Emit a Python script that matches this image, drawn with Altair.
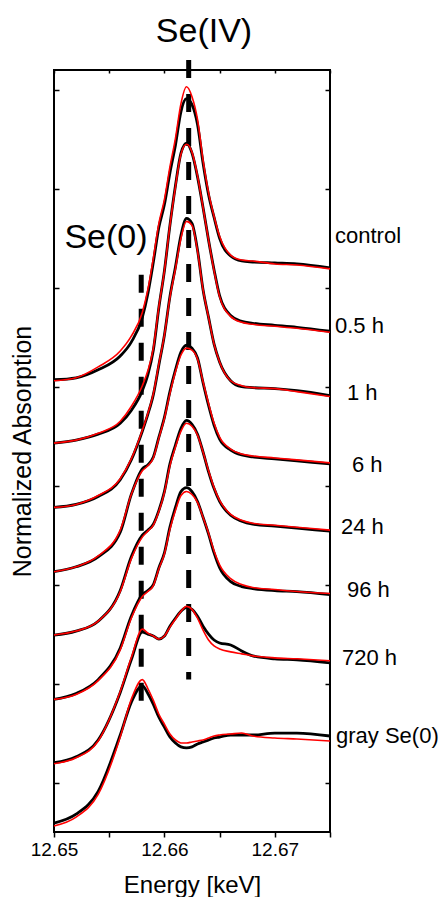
import altair as alt
import pandas as pd

# ---------------- data ----------------
energy = [12.650, 12.652, 12.654, 12.656, 12.657, 12.658, 12.6585, 12.659, 12.6595, 12.660,
          12.6605, 12.661, 12.6615, 12.662, 12.6625, 12.663, 12.6635, 12.664, 12.6645, 12.665,
          12.666, 12.667, 12.668, 12.670, 12.672, 12.675]

samples = ["control", "0.5 h", "1 h", "6 h", "24 h", "96 h", "720 h", "gray Se(0)"]
offsets = [4.07, 3.43, 2.78, 2.13, 1.49, 0.84, 0.20, -0.43]

data_control = [0, 0.02, 0.10, 0.24, 0.38, 0.63, 0.87, 1.19, 1.54, 1.77, 2.09, 2.37, 2.71, 2.84, 2.78, 2.58, 2.19, 1.87, 1.64, 1.43, 1.25, 1.20, 1.19, 1.18, 1.17, 1.13]
fit_control = [-0.01, 0.02, 0.13, 0.29, 0.44, 0.68, 0.91, 1.23, 1.58, 1.82, 2.15, 2.44, 2.79, 2.96, 2.86, 2.63, 2.22, 1.89, 1.65, 1.45, 1.26, 1.21, 1.20, 1.17, 1.16, 1.12]

data_05h = [0, 0.03, 0.09, 0.20, 0.33, 0.53, 0.69, 0.94, 1.37, 1.74, 2.20, 2.60, 2.93, 3.03, 2.93, 2.69, 2.38, 2.05, 1.75, 1.49, 1.29, 1.23, 1.21, 1.19, 1.17, 1.13]
fit_05h = [0, 0.03, 0.10, 0.22, 0.37, 0.58, 0.73, 0.96, 1.38, 1.74, 2.20, 2.59, 2.92, 3.02, 2.94, 2.70, 2.38, 2.05, 1.74, 1.48, 1.28, 1.22, 1.20, 1.18, 1.16, 1.12]

data_1h = [0, 0.03, 0.11, 0.28, 0.48, 0.77, 0.94, 1.14, 1.44, 1.74, 2.13, 2.43, 2.75, 2.92, 2.87, 2.60, 2.20, 1.92, 1.65, 1.47, 1.28, 1.22, 1.21, 1.20, 1.18, 1.13]
fit_1h = [0, 0.03, 0.12, 0.29, 0.49, 0.78, 0.95, 1.15, 1.45, 1.74, 2.12, 2.41, 2.72, 2.89, 2.85, 2.59, 2.20, 1.92, 1.65, 1.47, 1.28, 1.23, 1.21, 1.20, 1.17, 1.12]

data_6h = [0, 0.05, 0.15, 0.40, 0.78, 1.04, 1.08, 1.16, 1.36, 1.56, 1.82, 2.04, 2.22, 2.29, 2.26, 2.16, 1.91, 1.68, 1.48, 1.34, 1.23, 1.18, 1.16, 1.14, 1.12, 1.09]
fit_6h = [0, 0.05, 0.16, 0.42, 0.78, 1.02, 1.07, 1.15, 1.35, 1.55, 1.80, 2.02, 2.19, 2.26, 2.24, 2.15, 1.92, 1.70, 1.50, 1.36, 1.24, 1.19, 1.17, 1.15, 1.13, 1.10]

data_24h = [0, 0.04, 0.14, 0.45, 0.79, 1.01, 1.06, 1.12, 1.26, 1.45, 1.73, 1.92, 2.09, 2.17, 2.13, 2.03, 1.85, 1.65, 1.48, 1.35, 1.21, 1.15, 1.12, 1.10, 1.08, 1.05]
fit_24h = [0, 0.04, 0.14, 0.44, 0.77, 0.99, 1.05, 1.11, 1.25, 1.44, 1.71, 1.90, 2.06, 2.14, 2.11, 2.02, 1.85, 1.66, 1.49, 1.36, 1.22, 1.16, 1.13, 1.11, 1.09, 1.06]

data_96h = [0, 0.06, 0.20, 0.52, 0.84, 1.06, 1.10, 1.16, 1.33, 1.48, 1.74, 1.94, 2.10, 2.14, 2.10, 2.00, 1.84, 1.67, 1.48, 1.33, 1.19, 1.14, 1.12, 1.10, 1.09, 1.06]
fit_96h = [0, 0.05, 0.19, 0.50, 0.82, 1.04, 1.09, 1.15, 1.32, 1.47, 1.72, 1.91, 2.06, 2.10, 2.07, 1.99, 1.84, 1.68, 1.50, 1.36, 1.22, 1.16, 1.13, 1.11, 1.09, 1.07]

data_720h = [0, 0.06, 0.23, 0.71, 1.04, 1.32, 1.30, 1.28, 1.25, 1.28, 1.38, 1.46, 1.53, 1.57, 1.55, 1.48, 1.38, 1.30, 1.24, 1.21, 1.19, 1.13, 1.08, 1.05, 1.04, 1.01]
fit_720h = [-0.01, 0.05, 0.22, 0.72, 1.06, 1.35, 1.31, 1.28, 1.25, 1.28, 1.37, 1.45, 1.53, 1.58, 1.55, 1.46, 1.34, 1.24, 1.18, 1.15, 1.12, 1.10, 1.08, 1.06, 1.05, 1.03]

data_gray = [0.02, 0.11, 0.34, 0.91, 1.24, 1.41, 1.33, 1.22, 1.09, 0.99, 0.89, 0.83, 0.79, 0.78, 0.79, 0.82, 0.84, 0.86, 0.88, 0.89, 0.91, 0.91, 0.91, 0.93, 0.93, 0.90]
fit_gray = [-0.01, 0.08, 0.31, 0.89, 1.27, 1.47, 1.38, 1.26, 1.12, 1.02, 0.92, 0.86, 0.83, 0.83, 0.84, 0.85, 0.86, 0.88, 0.90, 0.91, 0.92, 0.93, 0.90, 0.88, 0.87, 0.85]

measured = [data_control, data_05h, data_1h, data_6h, data_24h, data_96h, data_720h, data_gray]
fitted = [fit_control, fit_05h, fit_1h, fit_6h, fit_24h, fit_96h, fit_720h, fit_gray]

# label heights (stacked-axis units) and reference energies
label_y = [5.45, 4.54, 3.87, 3.14, 2.51, 1.87, 1.19, 0.40]
ref_names = ["Se(0)", "Se(IV)"]
ref_energy = [12.6579, 12.6622]
ref_top = [5.13, 7.30]
ref_bottom = [0.82, 1.04]

x_ticks = [12.65, 12.655, 12.66, 12.665, 12.67, 12.675]
y_ticks = [0, 1, 2, 3, 4, 5, 6, 7]

# ---------------- build tables ----------------
rows = []
for name, off, m, f in zip(samples, offsets, measured, fitted):
    for e, vm, vf in zip(energy, m, f):
        rows.append({"energy": e, "sample": name, "kind": "data", "value": vm + off})
        rows.append({"energy": e, "sample": name, "kind": "fit", "value": vf + off})
df = pd.DataFrame(rows)

ref_df = pd.DataFrame({"name": ref_names, "energy": ref_energy, "top": ref_top, "bottom": ref_bottom})

# label x (pixels inside plot area, relative to its left edge)
label_px = [281, 281, 293, 298, 287, 293, 288, 282]
lab_df = pd.DataFrame({"label": samples, "y": label_y, "px": label_px})

FONT = "Liberation Sans"
xscale = alt.Scale(domain=[12.65, 12.675], nice=False, zero=False)
yscale = alt.Scale(domain=[-0.5, 7.2], nice=False, zero=False)

bottom_axis = alt.Axis(values=x_ticks, orient="bottom",
                       labelExpr="round(datum.value*1000) % 10 == 0 ? format(datum.value, '.2f') : ''",
                       labelFlush=False, labelOverlap=False,
                       title="Energy [keV]", tickSize=5, tickWidth=1.5, tickColor="black",
                       domain=False, grid=False, labelFont=FONT, labelFontSize=19,
                       labelColor="black", labelPadding=3, titleFont=FONT, titleFontSize=24,
                       titleFontWeight="normal", titleColor="black", titlePadding=14)
top_axis = alt.Axis(values=x_ticks, orient="top", labels=False, title=None, tickSize=3,
                    tickWidth=1.5, tickColor="black", domain=False, grid=False, offset=-3)
left_axis = alt.Axis(values=y_ticks, orient="left", labels=False, title="Normalized Absorption",
                     tickSize=5, tickWidth=1.5, tickColor="black", domain=False, grid=False,
                     offset=-5, titleFont=FONT, titleFontSize=25, titleFontWeight="normal",
                     titleColor="black", titlePadding=18)
right_axis = alt.Axis(values=y_ticks, orient="right", labels=False, title=None, tickSize=5,
                      tickWidth=1.5, tickColor="black", domain=False, grid=False, offset=-5)

base = alt.Chart(df)

black = base.transform_filter(alt.datum.kind == "data").mark_line(
    color="black", strokeWidth=2.8, interpolate="monotone").encode(
    x=alt.X("energy:Q", scale=xscale, axis=bottom_axis),
    y=alt.Y("value:Q", scale=yscale, axis=left_axis),
    detail="sample:N")

red = base.transform_filter(alt.datum.kind == "fit").mark_line(
    color="#ff0000", strokeWidth=1.6, interpolate="monotone").encode(
    x=alt.X("energy:Q", scale=xscale, axis=top_axis),
    y=alt.Y("value:Q", scale=yscale, axis=right_axis),
    detail="sample:N")

rules = alt.Chart(ref_df).mark_rule(color="black", strokeWidth=5, strokeDash=[18, 16],
                                    strokeCap="butt").encode(
    x=alt.X("energy:Q", scale=xscale, axis=None),
    y=alt.Y("top:Q", scale=yscale, axis=None),
    y2="bottom:Q")

labels = alt.Chart(lab_df).mark_text(align="left", baseline="alphabetic", font=FONT,
                                     fontSize=22, color="black").encode(
    x=alt.X("px:Q", scale=None, axis=None),
    y=alt.Y("y:Q", scale=yscale, axis=None),
    text="label:N")

se4 = alt.Chart(pd.DataFrame({"t": ["Se(IV)"]})).mark_text(
    align="center", baseline="alphabetic", font=FONT, fontSize=34, color="black").encode(
    x=alt.value(150), y=alt.value(-28), text="t:N")
se0 = alt.Chart(pd.DataFrame({"t": ["Se(0)"]})).mark_text(
    align="center", baseline="alphabetic", font=FONT, fontSize=34, color="black").encode(
    x=alt.value(52), y=alt.value(178), text="t:N")

chart = alt.layer(black, rules, red, labels, se4, se0).resolve_axis(
    x="independent", y="independent").properties(
    width=276, height=762,
    padding={"left": 46, "top": 62, "right": 109, "bottom": 65},
    autosize=alt.AutoSizeParams(type="none"),
    background="white",
).configure_view(stroke="black", strokeWidth=2)

chart.save("out.html", embed_options={"renderer": "svg", "actions": False})
